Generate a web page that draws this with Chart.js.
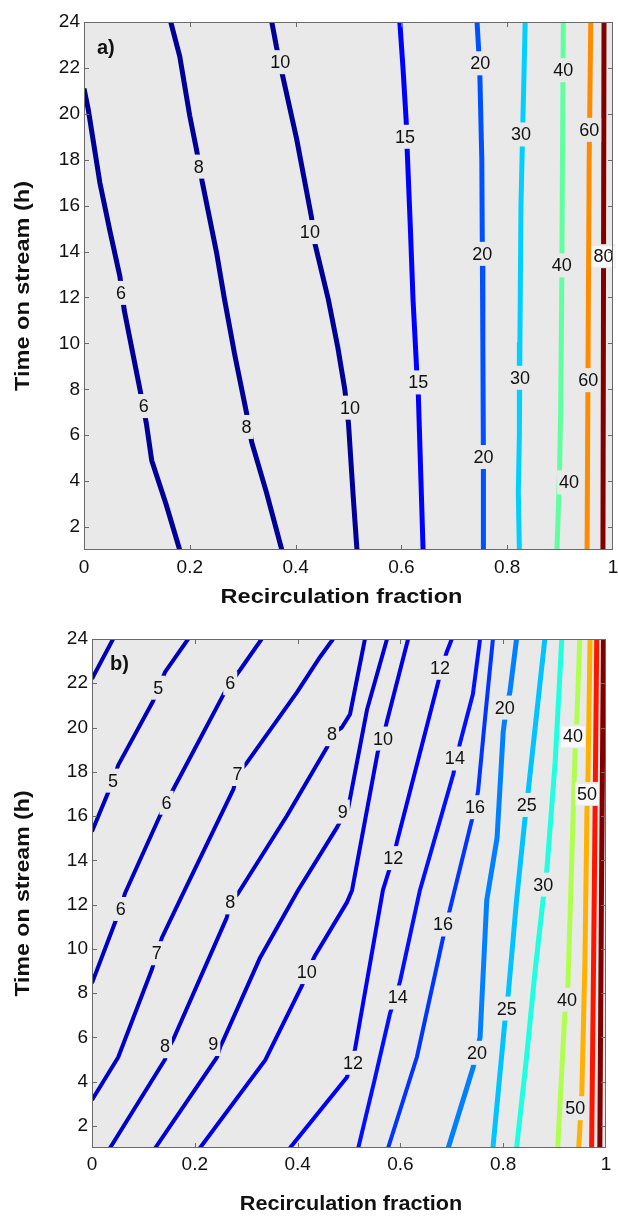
<!DOCTYPE html>
<html><head><meta charset="utf-8">
<script src="https://cdn.jsdelivr.net/npm/chart.js@4"></script>
<style>
html,body{margin:0;padding:0;background:#fff;overflow:hidden;}
#wrapA{position:absolute;left:0;top:0;width:618px;height:609px;}
#wrapB{position:absolute;left:0;top:609px;width:618px;height:609px;}
</style></head><body>
<div id="wrapA"><canvas id="cA" width="618" height="609"></canvas></div>
<div id="wrapB"><canvas id="cB" width="618" height="609"></canvas></div>
<script>
// ---- tick values / labels ----
const xTickValues = [0, 0.2, 0.4, 0.6, 0.8, 1];
const xTickLabels = ['0', '0.2', '0.4', '0.6', '0.8', '1'];
const yTickValues = [2, 4, 6, 8, 10, 12, 14, 16, 18, 20, 22, 24];
const xTitle = 'Recirculation fraction';
const yTitle = 'Time on stream (h)';

// ---- panel a) contour lines [recirculation fraction, time on stream] ----
const a6  = [[0,21.1],[0.008,20.2],[0.030,17.0],[0.049,14.9],[0.068,12.9],[0.076,11.45],[0.106,7.97],[0.118,6.5],[0.128,4.9],[0.155,3.0],[0.181,1]];
const a8  = [[0.164,24],[0.181,22.5],[0.200,19.9],[0.213,18.4],[0.223,17.1],[0.251,13.9],[0.265,12],[0.285,9.5],[0.307,7.0],[0.317,5.7],[0.345,3.5],[0.374,1]];
const a10 = [[0.355,24],[0.364,22.9],[0.376,21.6],[0.402,18.9],[0.430,15.5],[0.437,14.3],[0.462,11.9],[0.480,9.8],[0.493,8.0],[0.500,6.5],[0.509,3.3],[0.516,1]];
const a15 = [[0.597,24],[0.603,22],[0.609,19.7],[0.611,18.4],[0.617,15],[0.622,11.9],[0.629,8.8],[0.632,7.75],[0.637,4],[0.641,1]];
const a20 = [[0.743,24],[0.748,22],[0.752,18],[0.753,14],[0.754,10],[0.755,5],[0.755,1]];
const a30 = [[0.834,24],[0.830,20],[0.826,16],[0.824,10],[0.823,6],[0.821,3.5],[0.823,1]];
const a40 = [[0.906,24],[0.905,20],[0.903,12],[0.901,7],[0.899,4.5],[0.896,2.3],[0.894,1]];
const a60 = [[0.958,24],[0.955,18],[0.953,10],[0.951,1]];
const a80 = [[0.983,24],[0.982,12],[0.981,1]];
const aLevels = ['6','8','10','15','20','30','40','60','80'];
const aColors = ['#000096','#000096','#000096','#0000ff','#0050ff','#00d0ff','#60ffa0','#ff8c00','#800000'];
const aLabels = [[0.070,12.2,'6'],[0.113,7.27,'6'],[0.217,17.7,'8'],[0.307,6.36,'8'],[0.371,22.25,'10'],[0.427,14.85,'10'],[0.503,7.2,'10'],
  [0.607,19.0,'15'],[0.632,8.3,'15'],[0.749,22.2,'20'],[0.753,13.9,'20'],[0.755,5.05,'20'],[0.826,19.1,'30'],[0.824,8.5,'30'],
  [0.906,21.9,'40'],[0.903,13.4,'40'],[0.917,3.95,'40'],[0.955,19.3,'60'],[0.953,8.4,'60'],[0.982,13.8,'80','w']];

// ---- panel b) contour lines ----
const b4  = [[0,22.2],[0.041,24]];
const b5  = [[0,15.3],[0.041,17.6],[0.051,18.3],[0.119,21.2],[0.129,21.8],[0.142,22.5],[0.187,24]];
const b6  = [[0,8.45],[0.045,11.2],[0.056,11.8],[0.064,12.5],[0.132,16.0],[0.145,16.6],[0.158,17.2],[0.256,21.5],[0.269,22.0],[0.288,22.6],[0.330,24]];
const b7  = [[0,3.17],[0.051,5.1],[0.117,9.1],[0.126,9.8],[0.136,10.5],[0.171,12.2],[0.275,17.2],[0.283,17.9],[0.301,18.4],[0.399,21.6],[0.444,23.2],[0.469,24]];
const b8  = [[0.035,1],[0.142,5.0],[0.148,5.5],[0.158,5.9],[0.262,11.4],[0.269,12.1],[0.284,12.5],[0.379,16.0],[0.457,19.1],[0.467,19.7],[0.486,20.0],[0.502,20.6],[0.531,24]];
const b9  = [[0.123,1],[0.243,5.1],[0.250,5.6],[0.256,5.9],[0.327,9.6],[0.401,12.65],[0.477,15.5],[0.488,16.0],[0.498,16.3],[0.535,20.8],[0.574,24]];
const b10 = [[0.210,1],[0.337,4.97],[0.409,8.36],[0.420,9.0],[0.434,9.7],[0.496,12.1],[0.506,12.65],[0.556,18.9],[0.566,19.5],[0.574,20.3],[0.615,24]];
const b12 = [[0.385,1],[0.496,4.2],[0.505,4.85],[0.512,5.5],[0.566,12.65],[0.578,13.55],[0.586,14.1],[0.593,14.8],[0.673,22.0],[0.680,22.7],[0.690,23.4],[0.700,24]];
const b14 = [[0.518,1],[0.549,4],[0.580,7.1],[0.590,7.8],[0.599,8.5],[0.638,12.65],[0.703,17.9],[0.709,18.6],[0.716,19.3],[0.741,21.5],[0.755,24]];
const b16 = [[0.576,1],[0.632,5.1],[0.683,10.5],[0.688,11.1],[0.696,11.75],[0.741,16.0],[0.751,17.1],[0.765,20.5],[0.780,24]];
const b20 = [[0.693,1],[0.741,4.6],[0.748,5.3],[0.755,6.0],[0.768,12.2],[0.788,15],[0.800,19.8],[0.806,20.9],[0.813,21.6],[0.826,24]];
const b25 = [[0.780,1],[0.803,6.65],[0.807,7.3],[0.810,8.0],[0.826,12.2],[0.842,15.8],[0.846,16.5],[0.849,17.2],[0.881,24]];
const b30 = [[0.826,1],[0.845,5],[0.862,9],[0.878,12.3],[0.882,12.9],[0.885,13.6],[0.901,18.4],[0.914,24]];
const b40 = [[0.906,1],[0.920,7.1],[0.926,8.4],[0.940,19.0],[0.943,20.2],[0.949,24]];
const b50 = [[0.947,1],[0.953,3.5],[0.959,9.4],[0.963,16.3],[0.965,17.8],[0.969,24]];
const b60 = [[0.972,1],[0.977,12],[0.982,24]];
const b70 = [[0.988,1],[0.991,12],[0.995,24]];
const bLevels = ['4','5','6','7','8','9','10','12','14','16','20','25','30','40','50','60','70'];
const bColors = ['#0000b4','#0000bc','#0000c4','#0000c8','#0000cc','#0000d4','#0000e0','#0000f4','#0010ff','#0034ff','#0080ff','#00c4ff','#20ffdf','#b0ff4f','#ffb000','#ff1400','#800000'];
const bLabels = [[0.129,21.8,'5'],[0.041,17.6,'5'],[0.056,11.8,'6'],[0.145,16.6,'6'],[0.269,22.0,'6'],[0.126,9.8,'7'],[0.283,17.9,'7'],
  [0.142,5.6,'8'],[0.269,12.1,'8'],[0.467,19.7,'8'],[0.236,5.7,'9'],[0.488,16.2,'9'],[0.418,8.95,'10'],[0.566,19.5,'10'],
  [0.508,4.85,'12'],[0.586,14.1,'12'],[0.677,22.7,'12'],[0.595,7.8,'14'],[0.706,18.6,'14'],[0.683,11.1,'16'],[0.745,16.4,'16'],
  [0.749,5.3,'20'],[0.803,20.9,'20'],[0.807,7.3,'25'],[0.846,16.5,'25'],[0.878,12.9,'30'],[0.924,7.7,'40'],[0.936,19.6,'40','w'],
  [0.940,2.8,'50'],[0.963,17.0,'50','w']];

const aLines = [a6,a8,a10,a15,a20,a30,a40,a60,a80];
const bLines = [b4,b5,b6,b7,b8,b9,b10,b12,b14,b16,b20,b25,b30,b40,b50,b60,b70];

const FONT = '"Liberation Sans", Arial, sans-serif';
const BG = '#e9e9e9';
const FRAME = '#6a6a6a';

const deco = {
  id: 'deco',
  beforeDatasetsDraw(chart) {
    const {ctx, chartArea: a} = chart;
    ctx.save();
    ctx.fillStyle = BG;
    ctx.fillRect(a.left, a.top, a.right - a.left, a.bottom - a.top);
    ctx.restore();
  },
  afterDatasetsDraw(chart) {
    const {ctx, chartArea: a, scales: {x, y}} = chart;
    const o = chart.options.plugins.deco;
    ctx.save();
    // contour labels
    ctx.font = '18px ' + FONT;
    ctx.textAlign = 'center';
    ctx.textBaseline = 'middle';
    for (const [v, t, s, box] of o.labels) {
      const px = x.getPixelForValue(v), py = y.getPixelForValue(t);
      const w = ctx.measureText(s).width;
      ctx.fillStyle = BG;
      ctx.fillRect(px - w / 2 - 2, py - 12, w + 4, 24);
      if (box === 'w') {
        ctx.fillStyle = '#f8f8f8';
        ctx.fillRect(px - w / 2 - 2, py - 10, w + 4, 21);
      }
      ctx.fillStyle = '#111';
      ctx.fillText(s, px, py + 1);
    }
    // frame
    ctx.strokeStyle = FRAME;
    ctx.lineWidth = 1;
    ctx.strokeRect(Math.round(a.left) + 0.5, Math.round(a.top) + 0.5, Math.round(a.right - a.left) - 1, Math.round(a.bottom - a.top) - 1);
    // inward ticks
    ctx.beginPath();
    for (const v of xTickValues) {
      if (v <= 0 || v >= 1) continue;
      const px = Math.round(x.getPixelForValue(v)) + 0.5;
      ctx.moveTo(px, a.bottom); ctx.lineTo(px, a.bottom - 5);
      ctx.moveTo(px, a.top); ctx.lineTo(px, a.top + 5);
    }
    for (const v of yTickValues) {
      if (v >= 24) continue;
      const py = Math.round(y.getPixelForValue(v)) + 0.5;
      ctx.moveTo(a.left, py); ctx.lineTo(a.left + 5, py);
      ctx.moveTo(a.right, py); ctx.lineTo(a.right - 5, py);
    }
    ctx.stroke();
    // panel tag
    ctx.font = 'bold 20px ' + FONT;
    ctx.textAlign = 'left';
    ctx.textBaseline = 'alphabetic';
    ctx.fillStyle = '#111';
    ctx.fillText(o.tag, a.left + o.tagDx, a.top + o.tagDy);
    // axis titles
    ctx.font = 'bold 21px ' + FONT;
    ctx.textAlign = 'center';
    ctx.textBaseline = 'middle';
    ctx.save();
    ctx.translate((a.left + a.right) / 2 + o.xTitleDx, a.bottom + o.xTitleDy);
    ctx.scale(o.xStretch, 1);
    ctx.fillText(xTitle, 0, 0);
    ctx.restore();
    ctx.save();
    ctx.translate(23, (a.top + a.bottom) / 2);
    ctx.rotate(-Math.PI / 2);
    ctx.scale(o.yStretch, 1);
    ctx.fillText(yTitle, 0, 0);
    ctx.restore();
    ctx.restore();
  }
};

function build(id, lines, colors, widths, labels, area, H, extra) {
  const datasets = lines.map((pts, i) => ({
    data: pts.map(p => ({x: p[0], y: p[1]})),
    showLine: true, pointRadius: 0, pointHoverRadius: 0,
    borderColor: colors[i], backgroundColor: colors[i],
    borderWidth: widths[i], fill: false, tension: 0,
    borderJoinStyle: 'round'
  }));
  return new Chart(document.getElementById(id), {
    type: 'scatter',
    data: {datasets},
    options: {
      responsive: false, animation: false, devicePixelRatio: 1,
      events: [],
      layout: {padding: {top: area.top, right: 618 - area.right, left: 0, bottom: 0}},
      plugins: {
        legend: {display: false}, tooltip: {enabled: false},
        deco: Object.assign({labels}, extra)
      },
      scales: {
        x: {
          type: 'linear', min: 0, max: 1,
          grid: {display: false, drawTicks: false}, border: {display: false},
          ticks: {font: {family: FONT, size: 19}, color: '#111', padding: extra.xPad, autoSkip: false, maxRotation: 0,
                  callback: (v, i) => xTickLabels[i]},
          afterBuildTicks: s => { s.ticks = xTickValues.map(v => ({value: v})); },
          afterFit: s => { s.height = H - area.bottom; s.paddingLeft = 0; s.paddingRight = 0; }
        },
        y: {
          type: 'linear', min: 1, max: 24,
          grid: {display: false, drawTicks: false}, border: {display: false},
          ticks: {font: {family: FONT, size: 19}, color: '#111', padding: 4, autoSkip: false,
                  callback: (v, i) => String(yTickValues[i])},
          afterBuildTicks: s => { s.ticks = yTickValues.map(v => ({value: v})); },
          afterFit: s => { s.width = area.left; s.paddingTop = 0; s.paddingBottom = 0; }
        }
      }
    },
    plugins: [deco]
  });
}

build('cA', aLines, aColors, aLines.map(() => 5), aLabels,
  {left: 84, top: 22, right: 613, bottom: 550}, 609,
  {tag: 'a)', tagDx: 13, tagDy: 32, xPad: 6, xTitleDy: 47, xTitleDx: -7, xStretch: 1.12, yStretch: 1.12});
build('cB', bLines, bColors, bLevels.map(l => (+l >= 20 ? 5 : 4)), bLabels,
  {left: 92, top: 30, right: 606, bottom: 539}, 609,
  {tag: 'b)', tagDx: 18, tagDy: 31, xPad: 5, xTitleDy: 56, xTitleDx: 2, xStretch: 1.03, yStretch: 1.10});
</script>
</body></html>
